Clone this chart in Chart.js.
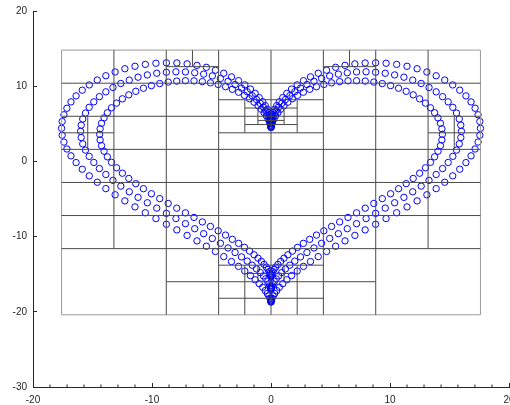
<!DOCTYPE html>
<html>
<head>
<meta charset="utf-8">
<script src="https://cdn.jsdelivr.net/npm/chart.js@4.4.0/dist/chart.umd.min.js"></script>
<style>
html, body { margin: 0; padding: 0; background: #fff; }
canvas { display: block; }
</style>
</head>
<body>
<canvas id="heartChart" width="510" height="405"></canvas>
<script>
// three nested hearts of circles (small, middle, large)
var innerX = [0,0,0.01,0.03,0.08,0.15,0.25,0.39,0.58,0.81,1.09,1.42,1.8,2.23,2.72,3.25,3.82,4.44,5.09,5.77,6.47,7.19,7.92,8.64,9.35,10.05,10.72,11.36,11.95,12.49,12.98,13.4,13.75,14.03,14.24,14.36,14.4,14.36,14.24,14.03,13.75,13.4,12.98,12.49,11.95,11.36,10.72,10.05,9.35,8.64,7.92,7.19,6.47,5.77,5.09,4.44,3.82,3.25,2.72,2.23,1.8,1.42,1.09,0.81,0.58,0.39,0.25,0.15,0.08,0.03,0.01,0,0,
  0,-0.01,-0.03,-0.08,-0.15,-0.25,-0.39,-0.58,-0.81,-1.09,-1.42,-1.8,-2.23,-2.72,-3.25,-3.82,-4.44,-5.09,-5.77,-6.47,-7.19,-7.92,-8.64,-9.35,-10.05,-10.72,-11.36,-11.95,-12.49,-12.98,-13.4,-13.75,-14.03,-14.24,-14.36,-14.4,-14.36,-14.24,-14.03,-13.75,-13.4,-12.98,-12.49,-11.95,-11.36,-10.72,-10.05,-9.35,-8.64,-7.92,-7.19,-6.47,-5.77,-5.09,-4.44,-3.82,-3.25,-2.72,-2.23,-1.8,-1.42,-1.09,-0.81,-0.58,-0.39,-0.25,-0.15,-0.08,-0.03,-0.01,0];
var innerY = [4.5,4.54,4.64,4.81,5.05,5.34,5.68,6.07,6.49,6.94,7.4,7.87,8.33,8.78,9.2,9.59,9.93,10.23,10.45,10.61,10.71,10.73,10.68,10.55,10.35,10.08,9.73,9.32,8.85,8.32,7.75,7.13,6.47,5.78,5.07,4.34,3.6,2.85,2.1,1.35,0.61,-0.13,-0.85,-1.57,-2.27,-2.96,-3.63,-4.3,-4.95,-5.59,-6.22,-6.84,-7.45,-8.05,-8.65,-9.23,-9.8,-10.36,-10.9,-11.43,-11.93,-12.42,-12.87,-13.3,-13.7,-14.06,-14.38,-14.65,-14.88,-15.06,-15.19,-15.27,-15.3,
  4.54,4.64,4.81,5.05,5.34,5.68,6.07,6.49,6.94,7.4,7.87,8.33,8.78,9.2,9.59,9.93,10.23,10.45,10.61,10.71,10.73,10.68,10.55,10.35,10.08,9.73,9.32,8.85,8.32,7.75,7.13,6.47,5.78,5.07,4.34,3.6,2.85,2.1,1.35,0.61,-0.13,-0.85,-1.57,-2.27,-2.96,-3.63,-4.3,-4.95,-5.59,-6.22,-6.84,-7.45,-8.05,-8.65,-9.23,-9.8,-10.36,-10.9,-11.43,-11.93,-12.42,-12.87,-13.3,-13.7,-14.06,-14.38,-14.65,-14.88,-15.06,-15.19,-15.27];

var middleX = [0,0,0.01,0.04,0.08,0.16,0.28,0.44,0.64,0.9,1.21,1.58,2,2.48,3.02,3.61,4.25,4.93,5.66,6.41,7.19,7.99,8.79,9.6,10.39,11.17,11.91,12.62,13.28,13.88,14.42,14.89,15.28,15.59,15.82,15.95,16,15.95,15.82,15.59,15.28,14.89,14.42,13.88,13.28,12.62,11.91,11.17,10.39,9.6,8.79,7.99,7.19,6.41,5.66,4.93,4.25,3.61,3.02,2.48,2,1.58,1.21,0.9,0.64,0.44,0.28,0.16,0.08,0.04,0.01,0,0,
  0,-0.01,-0.04,-0.08,-0.16,-0.28,-0.44,-0.64,-0.9,-1.21,-1.58,-2,-2.48,-3.02,-3.61,-4.25,-4.93,-5.66,-6.41,-7.19,-7.99,-8.79,-9.6,-10.39,-11.17,-11.91,-12.62,-13.28,-13.88,-14.42,-14.89,-15.28,-15.59,-15.82,-15.95,-16,-15.95,-15.82,-15.59,-15.28,-14.89,-14.42,-13.88,-13.28,-12.62,-11.91,-11.17,-10.39,-9.6,-8.79,-7.99,-7.19,-6.41,-5.66,-4.93,-4.25,-3.61,-3.02,-2.48,-2,-1.58,-1.21,-0.9,-0.64,-0.44,-0.28,-0.16,-0.08,-0.04,-0.01,0];
var middleY = [5,5.04,5.15,5.35,5.61,5.93,6.31,6.74,7.21,7.71,8.22,8.74,9.26,9.75,10.22,10.65,11.03,11.37,11.61,11.79,11.9,11.92,11.86,11.72,11.5,11.2,10.81,10.36,9.83,9.25,8.61,7.92,7.19,6.43,5.64,4.82,4,3.17,2.33,1.5,0.67,-0.14,-0.95,-1.74,-2.52,-3.29,-4.04,-4.78,-5.5,-6.21,-6.91,-7.6,-8.28,-8.95,-9.61,-10.25,-10.89,-11.51,-12.11,-12.7,-13.26,-13.8,-14.3,-14.78,-15.22,-15.62,-15.97,-16.28,-16.53,-16.74,-16.88,-16.97,-17,
  5.04,5.15,5.35,5.61,5.93,6.31,6.74,7.21,7.71,8.22,8.74,9.26,9.75,10.22,10.65,11.03,11.37,11.61,11.79,11.9,11.92,11.86,11.72,11.5,11.2,10.81,10.36,9.83,9.25,8.61,7.92,7.19,6.43,5.64,4.82,4,3.17,2.33,1.5,0.67,-0.14,-0.95,-1.74,-2.52,-3.29,-4.04,-4.78,-5.5,-6.21,-6.91,-7.6,-8.28,-8.95,-9.61,-10.25,-10.89,-11.51,-12.11,-12.7,-13.26,-13.8,-14.3,-14.78,-15.22,-15.62,-15.97,-16.28,-16.53,-16.74,-16.88,-16.97];

var outerX = [0,0,0.01,0.04,0.09,0.18,0.31,0.48,0.7,0.99,1.33,1.73,2.2,2.73,3.32,3.97,4.67,5.43,6.22,7.05,7.91,8.79,9.67,10.56,11.43,12.28,13.1,13.88,14.6,15.27,15.86,16.38,16.81,17.15,17.4,17.55,17.6,17.55,17.4,17.15,16.81,16.38,15.86,15.27,14.6,13.88,13.1,12.28,11.43,10.56,9.67,8.79,7.91,7.05,6.22,5.43,4.67,3.97,3.32,2.73,2.2,1.73,1.33,0.99,0.7,0.48,0.31,0.18,0.09,0.04,0.01,0,0,
  0,-0.01,-0.04,-0.09,-0.18,-0.31,-0.48,-0.7,-0.99,-1.33,-1.73,-2.2,-2.73,-3.32,-3.97,-4.67,-5.43,-6.22,-7.05,-7.91,-8.79,-9.67,-10.56,-11.43,-12.28,-13.1,-13.88,-14.6,-15.27,-15.86,-16.38,-16.81,-17.15,-17.4,-17.55,-17.6,-17.55,-17.4,-17.15,-16.81,-16.38,-15.86,-15.27,-14.6,-13.88,-13.1,-12.28,-11.43,-10.56,-9.67,-8.79,-7.91,-7.05,-6.22,-5.43,-4.67,-3.97,-3.32,-2.73,-2.2,-1.73,-1.33,-0.99,-0.7,-0.48,-0.31,-0.18,-0.09,-0.04,-0.01,0];
var outerY = [5.5,5.54,5.67,5.88,6.17,6.52,6.94,7.42,7.93,8.48,9.05,9.62,10.18,10.73,11.24,11.72,12.13,12.51,12.77,12.97,13.09,13.11,13.05,12.9,12.65,12.32,11.89,11.39,10.82,10.17,9.47,8.71,7.91,7.07,6.2,5.31,4.4,3.48,2.57,1.65,0.74,-0.16,-1.04,-1.92,-2.77,-3.62,-4.44,-5.25,-6.05,-6.83,-7.6,-8.36,-9.11,-9.84,-10.57,-11.28,-11.98,-12.66,-13.32,-13.96,-14.58,-15.18,-15.74,-16.26,-16.74,-17.18,-17.57,-17.91,-18.19,-18.41,-18.57,-18.67,-18.7,
  5.54,5.67,5.88,6.17,6.52,6.94,7.42,7.93,8.48,9.05,9.62,10.18,10.73,11.24,11.72,12.13,12.51,12.77,12.97,13.09,13.11,13.05,12.9,12.65,12.32,11.89,11.39,10.82,10.17,9.47,8.71,7.91,7.07,6.2,5.31,4.4,3.48,2.57,1.65,0.74,-0.16,-1.04,-1.92,-2.77,-3.62,-4.44,-5.25,-6.05,-6.83,-7.6,-8.36,-9.11,-9.84,-10.57,-11.28,-11.98,-12.66,-13.32,-13.96,-14.58,-15.18,-15.74,-16.26,-16.74,-17.18,-17.57,-17.91,-18.19,-18.41,-18.57,-18.67];

// tree cell edges: horizontal [y, x1, x2], vertical [x, y1, y2]
var frameH = [[14.8, -17.6, 17.6], [-20.4, -17.6, 17.6]];
var frameV = [[-17.6, -20.4, 14.8], [17.6, -20.4, 14.8]];
var cellH = [
  [12.6, -8.8, -4.4], [12.6, 4.4, 8.8],
  [10.4, -17.6, 17.6], [8.2, -4.4, 4.4], [7.1, -2.2, 2.2],
  [6.0, -17.6, 17.6], [5.45, -1.1, 1.1], [4.9, -2.2, 2.2],
  [3.8, -17.6, -13.2], [3.8, -4.4, 4.4], [3.8, 13.2, 17.6],
  [1.6, -17.6, 17.6], [-2.8, -17.6, 17.6], [-7.2, -17.6, 17.6], [-11.6, -17.6, 17.6],
  [-13.8, -4.4, 4.4], [-14.9, -2.2, 2.2], [-16.0, -8.8, 8.8], [-18.2, -4.4, 4.4]
];
var cellV = [
  [0, -20.4, 14.8], [-4.4, -20.4, 14.8], [4.4, -20.4, 14.8], [-8.8, -20.4, 14.8], [8.8, -20.4, 14.8],
  [-13.2, -11.6, 14.8], [13.2, -11.6, 14.8],
  [-6.6, 12.6, 14.8], [6.6, 12.6, 14.8],
  [-15.4, 1.6, 6.0], [15.4, 1.6, 6.0],
  [-2.2, 3.8, 8.2], [2.2, 3.8, 8.2], [-2.2, -20.4, -13.8], [2.2, -20.4, -13.8],
  [-1.1, 4.9, 7.1], [1.1, 4.9, 7.1], [-1.1, -16.0, -13.8], [1.1, -16.0, -13.8]
];

var xRange = [-20, 20];
var yRange = [-30, 20];
var tickStep = 10;
// small unlabelled marks along the bottom axis
var xMinorTicks = [-18.57,-17.14,-15.71,-14.29,-12.86,-11.43,-8.57,-7.14,-5.71,-4.29,-2.86,-1.43,
  1.43,2.86,4.29,5.71,7.14,8.57,11.43,12.86,14.29,15.71,17.14,18.57];

function toPoints(xs, ys) {
  return xs.map(function (x, i) { return {x: x, y: ys[i]}; });
}

function toSegments(h, v) {
  var out = [];
  h.forEach(function (s) { out.push({x: s[1], y: s[0]}, {x: s[2], y: s[0]}, {x: null, y: null}); });
  v.forEach(function (s) { out.push({x: s[0], y: s[1]}, {x: s[0], y: s[2]}, {x: null, y: null}); });
  return out;
}

function heartSet(xs, ys) {
  return {
    data: toPoints(xs, ys),
    pointStyle: 'circle',
    pointRadius: 3.2,
    pointBorderWidth: 1,
    borderColor: '#0000ff',
    backgroundColor: 'rgba(0,0,0,0)',
    order: 2
  };
}

function edgeSet(h, v, color) {
  return {
    type: 'line',
    data: toSegments(h, v),
    borderColor: color,
    borderWidth: 1,
    pointRadius: 0,
    spanGaps: false,
    fill: false,
    tension: 0,
    order: 1
  };
}

function fixBox(size) {
  return function (scale) {
    if (scale.isHorizontal()) scale.height = size; else scale.width = size;
    scale.paddingLeft = 0; scale.paddingRight = 0;
    scale.paddingTop = 0; scale.paddingBottom = 0;
  };
}

var axisColor = '#262626';
var ctx = document.getElementById('heartChart').getContext('2d');
var chart = new Chart(ctx, {
  type: 'scatter',
  data: {
    datasets: [
      heartSet(innerX, innerY),
      heartSet(middleX, middleY),
      heartSet(outerX, outerY),
      edgeSet(cellH, cellV, '#4a4a4a'),
      edgeSet(frameH, frameV, '#9a9a9a'),
      {
        data: xMinorTicks.map(function (v) { return {x: v, y: yRange[0]}; }),
        pointStyle: 'line',
        rotation: 90,
        pointRadius: 2.5,
        pointBorderWidth: 1,
        borderColor: axisColor,
        backgroundColor: axisColor,
        order: 0
      }
    ]
  },
  options: {
    responsive: false,
    animation: false,
    devicePixelRatio: 1,
    layout: { autoPadding: false, padding: { top: 11, right: 1, left: 0, bottom: 0 } },
    plugins: { legend: { display: false }, tooltip: { enabled: false } },
    scales: {
      x: {
        type: 'linear',
        min: xRange[0], max: xRange[1],
        afterFit: fixBox(18),
        border: { display: true, color: axisColor, width: 1 },
        grid: { drawOnChartArea: false, drawTicks: true, tickLength: -4, color: axisColor },
        ticks: { stepSize: tickStep, padding: 11, color: axisColor, maxRotation: 0,
                 font: { family: 'Liberation Sans', size: 10 } }
      },
      y: {
        type: 'linear',
        min: yRange[0], max: yRange[1],
        afterFit: fixBox(33),
        border: { display: true, color: axisColor, width: 1 },
        grid: { drawOnChartArea: false, drawTicks: true, tickLength: -4, color: axisColor },
        ticks: { stepSize: tickStep, padding: 10, color: axisColor,
                 font: { family: 'Liberation Sans', size: 10 } }
      }
    }
  }
});
</script>
</body>
</html>
